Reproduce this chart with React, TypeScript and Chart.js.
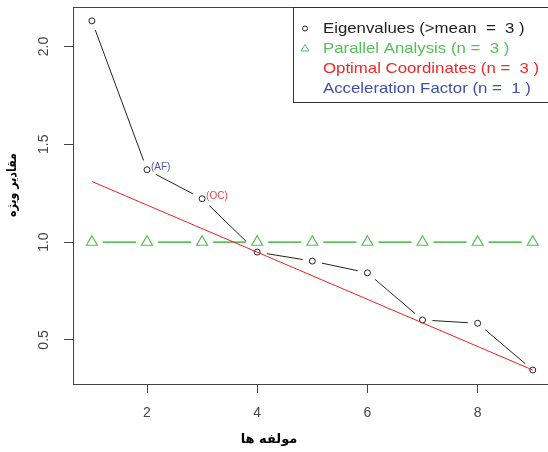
import React, { useEffect, useRef } from 'react';
import { Chart, registerables } from 'chart.js';

Chart.register(...registerables);

// ---- data ----
const components = [1, 2, 3, 4, 5, 6, 7, 8, 9];
const eigenvalues = [2.131, 1.37, 1.222, 0.949, 0.903, 0.843, 0.602, 0.585, 0.346];
const parallelAnalysis = [1, 1, 1, 1, 1, 1, 1, 1, 1];
const ocLineX = [1, 9];
const ocLineY = [1.31, 0.346];
const xTicks = [2, 4, 6, 8];
const yTicks = [0.5, 1.0, 1.5, 2.0];
const legendLabels = [
  'Eigenvalues (>mean  =  3 )',
  'Parallel Analysis (n =  3 )',
  'Optimal Coordinates (n =  3 )',
  'Acceleration Factor (n =  1 )',
];
const legendColors = ['#1e1e1e', '#55c055', '#f02828', '#3f4fa6'];
const pointNotes = ['(AF)', '(OC)'];
const pointNoteIndex = [1, 2];
const pointNoteColors = ['#4a58a8', '#e84848'];
const xTitle = 'مولفه ها';
const yTitle = 'مقادیر ویژه';

const AXIS = '#444444';
const SANS = '"Liberation Sans", Arial, sans-serif';
const ARAB = '"DejaVu Sans", sans-serif';

const decorPlugin = {
  id: 'decor',
  afterDraw(chart: any) {
    const { ctx, chartArea: ca, scales } = chart;
    const x = scales.x;
    const y = scales.y;
    ctx.save();
    // top border of the box
    ctx.strokeStyle = AXIS;
    ctx.lineWidth = 1;
    const top = Math.round(ca.top) + 0.5;
    ctx.beginPath();
    ctx.moveTo(Math.round(ca.left) + 0.5, top);
    ctx.lineTo(ca.right + 2, top);
    ctx.stroke();

    // point notes
    ctx.font = '10px ' + SANS;
    ctx.textAlign = 'left';
    ctx.textBaseline = 'middle';
    pointNotes.forEach((t, i) => {
      const idx = pointNoteIndex[i];
      const px = x.getPixelForValue(components[idx]) + 4;
      const py = y.getPixelForValue(eigenvalues[idx]) - 2;
      ctx.fillStyle = pointNoteColors[i];
      ctx.fillText(t, px, py);
    });

    // legend box
    const lx = 293.5;
    const ly = top;
    const lb = 102.5;
    ctx.fillStyle = '#ffffff';
    ctx.fillRect(lx, ly, 300, lb - ly);
    ctx.strokeStyle = '#333333';
    ctx.strokeRect(lx, ly, 300, lb - ly);

    const rowY = [28.5, 48.5, 68.5, 88.5];
    // markers
    ctx.strokeStyle = legendColors[0];
    ctx.beginPath();
    ctx.arc(305, rowY[0], 2.5, 0, Math.PI * 2);
    ctx.stroke();
    ctx.strokeStyle = legendColors[1];
    ctx.beginPath();
    ctx.moveTo(305, rowY[1] - 4);
    ctx.lineTo(309, rowY[1] + 2.5);
    ctx.lineTo(301, rowY[1] + 2.5);
    ctx.closePath();
    ctx.stroke();

    ctx.font = '15px ' + SANS;
    ctx.textBaseline = 'middle';
    legendLabels.forEach((t, i) => {
      ctx.save();
      ctx.translate(323, rowY[i]);
      ctx.scale(1.12, 1);
      ctx.fillStyle = legendColors[i];
      ctx.fillText(t, 0, 0);
      ctx.restore();
    });

    // axis titles
    ctx.fillStyle = '#000000';
    ctx.font = 'bold 13px ' + ARAB;
    ctx.textAlign = 'center';
    ctx.textBaseline = 'middle';
    ctx.fillText(xTitle, 269, 440);
    ctx.save();
    ctx.translate(13, 185);
    ctx.rotate(-Math.PI / 2);
    ctx.scale(0.85, 1);
    ctx.fillText(yTitle, 0, 0);
    ctx.restore();
    ctx.restore();
  },
};

const zeroPad = (s: any) => {
  s.paddingTop = 0;
  s.paddingBottom = 0;
  s.paddingLeft = 0;
  s.paddingRight = 0;
};

export default function App() {
  const ref = useRef<HTMLCanvasElement>(null);
  useEffect(() => {
    document.body.style.margin = '0';
    const canvas = ref.current!;
    const eig = components.map((c, i) => ({ x: c, y: eigenvalues[i] }));
    const par = components.map((c, i) => ({ x: c, y: parallelAnalysis[i] }));
    const oc = ocLineX.map((c, i) => ({ x: c, y: ocLineY[i] }));
    const chart = new Chart(canvas, {
      type: 'line',
      data: {
        datasets: [
          // bottom to top via order (higher order drawn first)
          { data: eig, order: 7, borderColor: '#222222', borderWidth: 1, pointRadius: 0, tension: 0 },
          { data: eig, order: 6, showLine: false, pointRadius: 10, pointBackgroundColor: '#ffffff', pointBorderWidth: 0, pointBorderColor: 'rgba(0,0,0,0)' },
          { data: par, order: 5, borderColor: '#5cc45c', borderWidth: 1.6, pointRadius: 0, tension: 0 },
          { data: par, order: 4, showLine: false, pointRadius: 11, pointBackgroundColor: '#ffffff', pointBorderWidth: 0, pointBorderColor: 'rgba(0,0,0,0)' },
          { data: eig, order: 3, showLine: false, pointRadius: 3, pointBorderWidth: 1, pointBorderColor: '#222222', pointBackgroundColor: 'rgba(0,0,0,0)' },
          { data: par, order: 2, showLine: false, pointStyle: 'triangle', pointRadius: 6.3, pointBorderWidth: 1.2, pointBorderColor: '#55c055', pointBackgroundColor: 'rgba(0,0,0,0)' },
          { data: oc, order: 1, borderColor: '#f02020', borderWidth: 1, pointRadius: 0, tension: 0 },
        ],
      },
      options: {
        animation: false,
        responsive: false,
        events: [],
        layout: { autoPadding: false, padding: { top: 7, left: 0, right: 0, bottom: 0 } },
        plugins: { legend: { display: false }, tooltip: { enabled: false } },
        scales: {
          x: {
            type: 'linear',
            min: 0.657,
            max: 9.277,
            afterFit: (s: any) => { s.height = 68; zeroPad(s); },
            afterBuildTicks: (s: any) => { s.ticks = xTicks.map((v) => ({ value: v })); },
            border: { display: true, color: AXIS, width: 1 },
            grid: { display: true, drawOnChartArea: false, drawTicks: true, tickLength: 9, color: AXIS },
            ticks: { color: '#444444', font: { family: SANS, size: 14 }, padding: 12, maxRotation: 0, autoSkip: false, callback: (v: any) => String(v) },
          },
          y: {
            type: 'linear',
            min: 0.2746,
            max: 2.202,
            afterFit: (s: any) => { s.width = 73; zeroPad(s); },
            afterBuildTicks: (s: any) => { s.ticks = yTicks.map((v) => ({ value: v })); },
            border: { display: true, color: AXIS, width: 1 },
            grid: { display: true, drawOnChartArea: false, drawTicks: true, tickLength: 9, color: AXIS },
            ticks: { color: '#444444', font: { family: SANS, size: 14 }, padding: 10, minRotation: 90, maxRotation: 90, crossAlign: 'center', autoSkip: false, callback: (v: any) => Number(v).toFixed(1) },
          },
        },
      },
      plugins: [decorPlugin],
    } as any);
    return () => chart.destroy();
  }, []);
  return (
    <div style={{ width: 548, height: 452 }}>
      <canvas ref={ref} width={548} height={452} style={{ display: 'block', width: 548, height: 452 }} />
    </div>
  );
}
